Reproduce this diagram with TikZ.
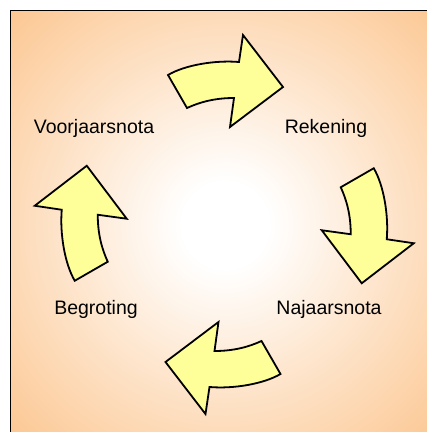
\documentclass[tikz,border=0pt]{standalone}
\usepackage{fontspec}
\setmainfont{Liberation Sans}
\definecolor{peach}{RGB}{252,200,148}
\definecolor{paleyellow}{RGB}{255,255,153}
\colorlet{peachlow}{peach!45!white}
\pgfdeclareradialshading{glow}{\pgfpoint{0bp}{0bp}}{color(0bp)=(white); color(5bp)=(white); color(18bp)=(peachlow); color(35bp)=(peach); color(72bp)=(peach)}
\tikzset{
  cyclearrow/.style={draw=black, fill=paleyellow, line width=1.8pt, line join=miter},
  frameline/.style={draw=black, line width=1.6pt},
  lbl/.style={anchor=base, inner sep=0pt, font=\fontsize{19.5}{23}\selectfont}
}
\begin{document}
\begin{tikzpicture}[x=1pt,y=-1pt]
\useasboundingbox (0,0) rectangle (427,432);
\begin{scope}
  \clip (0,0) rectangle (427,432);
  \path[shading=glow] (10.5,10.5) rectangle (439.5,439.5);
  \draw[frameline] (10.5,445) -- (10.5,10.5) -- (445,10.5);
\end{scope}
\coordinate (c) at (224.25,224.5);
\foreach \a in {0,-90,-180,-270}{
  \draw[cyclearrow, rotate around={\a:(c)}]
    (168,75) .. controls (185,65) and (215,60) .. (239,62)
    -- (243,35) -- (283,87) -- (230,127) -- (234,98)
    .. controls (215,98) and (200,102) .. (187,108) -- cycle;
}
\node[lbl] (voor) at (94,133) {Voorjaarsnota};
\node[lbl] (rek) at (326,133) {Rekening};
\node[lbl] (beg) at (96,314) {Begroting};
\node[lbl] (naj) at (329,314) {Najaarsnota};
\end{tikzpicture}
\end{document}
